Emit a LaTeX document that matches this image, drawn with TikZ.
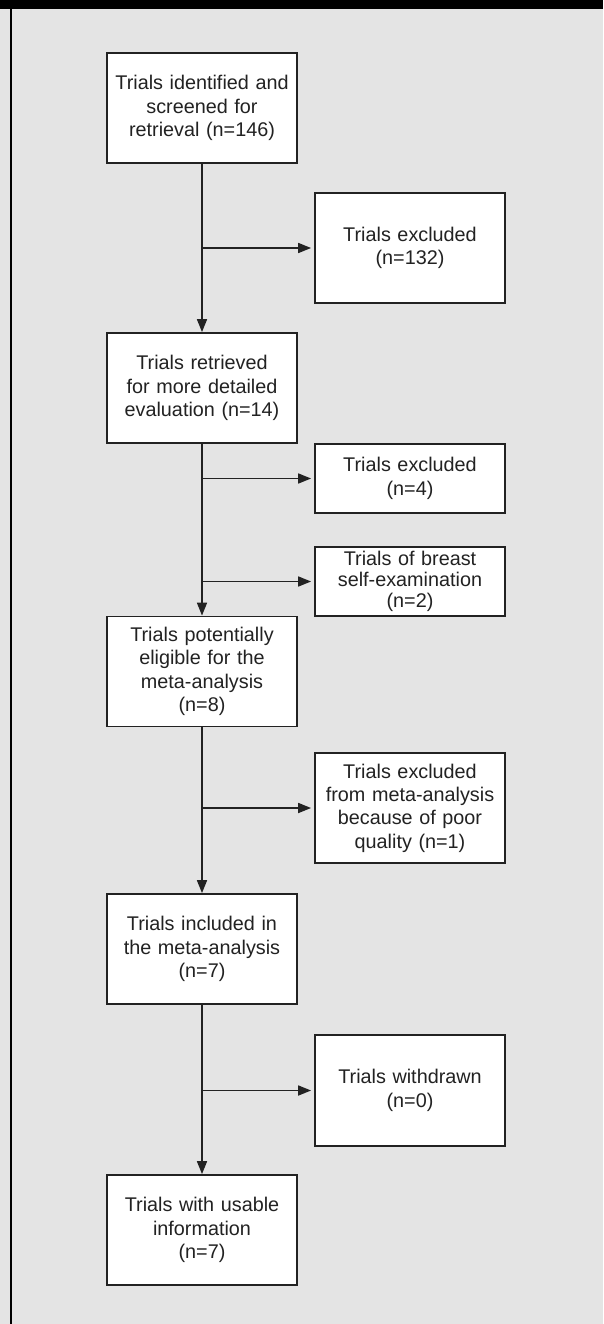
\documentclass[tikz,border=0pt]{standalone}
\usepackage{fontspec}
\setmainfont{Liberation Sans}
\usetikzlibrary{arrows.meta}
\definecolor{panel}{HTML}{E4E4E4}
\definecolor{ink}{HTML}{222222}

\begin{document}
\begin{tikzpicture}[x=1pt,y={(0,-1pt)},
    stage/.style={draw=ink,line width=1.8pt,fill=white,minimum width=190pt,minimum height=110pt,text width=184pt,align=center,inner sep=0pt,text=ink,font=\fontsize{19.8}{23.3}\selectfont},
    side/.style={stage},
    arc/.style={draw=ink,line width=1.7pt,-{Triangle[length=13pt,width=10pt]}}]
        \useasboundingbox (0,0) rectangle (603,1324);
        \fill[panel] (0,0) rectangle (603,1324);
        \fill[black] (0,0) rectangle (603,9);
        \draw[line width=1.8pt] (11,9) -- (11,1324);

        \foreach [count=\i] \coord/\txt in {(202,108)/{Trials identified and\\screened for\\retrieval (n=146)},(202,388)/{Trials retrieved\\for more detailed\\evaluation (n=14)},(202,671.5)/{Trials potentially\\eligible for the\\meta-analysis\\(n=8)},(202,949)/{Trials included in\\the meta-analysis\\(n=7)},(202,1230)/{Trials with usable\\information\\(n=7)}}{
            \node[stage] (s\i) at \coord {\txt};
        }

        \foreach [count=\i] \coord/\h/\txt in {(410,248)/110/{Trials excluded\\(n=132)},(410,478.5)/69/{Trials excluded\\(n=4)},(410,581.5)/69/{Trials of breast\\[-2.6pt]self-examination\\[-2.6pt](n=2)},(410,808)/110/{Trials excluded\\from meta-analysis\\because of poor\\quality (n=1)},(410,1090.5)/111/{Trials withdrawn\\(n=0)}}{
            \node[side,minimum height=\h pt] (x\i) at \coord {\txt};
        }

        \draw[arc] (s1) -- (s2);
        \draw[arc] (s2) -- (s3);
        \draw[arc] (s3) -- (s4);
        \draw[arc] (s4) -- (s5);

        \draw[arc,shorten >=3pt] (s1.south |- x1.west) -- (x1.west);
        \draw[arc,shorten >=3pt] (s2.south |- x2.west) -- (x2.west);
        \draw[arc,shorten >=3pt] (s2.south |- x3.west) -- (x3.west);
        \draw[arc,shorten >=3pt] (s3.south |- x4.west) -- (x4.west);
        \draw[arc,shorten >=3pt] (s4.south |- x5.west) -- (x5.west);
\end{tikzpicture}
\end{document}
